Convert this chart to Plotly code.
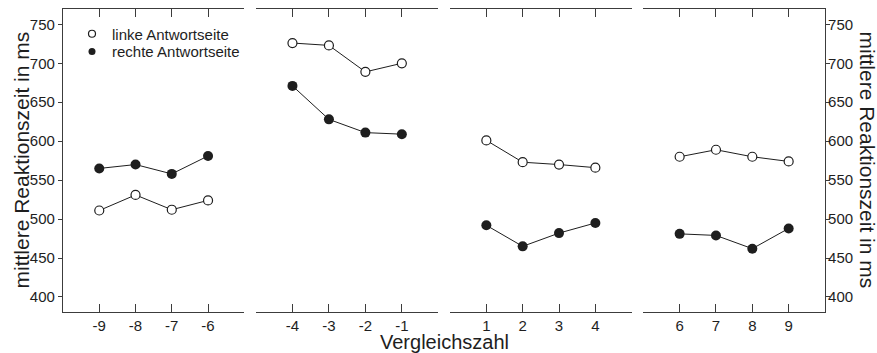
import plotly.graph_objects as go

# ---- data ----
panel_x = [[-9, -8, -7, -6], [-4, -3, -2, -1], [1, 2, 3, 4], [6, 7, 8, 9]]
panel_ranges = [[-10, -5], [-5, 0], [0, 5], [5, 10]]
links = [[511, 531, 512, 524], [726, 723, 689, 700], [601, 573, 570, 566], [580, 589, 580, 574]]
rechts = [[565, 570, 558, 581], [671, 628, 611, 609], [492, 465, 482, 495], [481, 479, 462, 488]]
y_ticks = [400, 450, 500, 550, 600, 650, 700, 750]
y_range = [380.7, 769.7]
series_names = ["linke Antwortseite", "rechte Antwortseite"]
x_title = "Vergleichszahl"
y_title = "mittlere Reaktionszeit in ms"

# ---- layout geometry ----
W, H = 877, 353
ML, MR, MT, MB = 63, 52, 9, 41
PW = W - ML - MR
PH = H - MT - MB
panel_px = [(63, 244.3), (256, 438.3), (450, 631.7), (643.3, 825)]
domains = [[(a - ML) / PW, min(1, (b - ML) / PW)] for a, b in panel_px]

INK = "#1e1e1e"
AX = "#3c3c3c"
FONT = "Liberation Sans, Arial, sans-serif"

fig = go.Figure()

for i in range(4):
    xa = "x" if i == 0 else f"x{i+1}"
    ya = "y" if i == 0 else f"y{i+1}"
    fig.add_trace(go.Scatter(
        x=panel_x[i], y=links[i], xaxis=xa, yaxis=ya, mode="lines+markers",
        line=dict(color=INK, width=1),
        marker=dict(symbol="circle", size=9, color="white", line=dict(color=INK, width=1.2)),
        showlegend=False, hoverinfo="skip"))
    fig.add_trace(go.Scatter(
        x=panel_x[i], y=rechts[i], xaxis=xa, yaxis=ya, mode="lines+markers",
        line=dict(color=INK, width=1),
        marker=dict(symbol="circle", size=10, color=INK, line=dict(color=INK, width=0)),
        showlegend=False, hoverinfo="skip"))

# legend-only entries (one legend box per entry for tight row spacing)
fig.add_trace(go.Scatter(x=[None], y=[None], mode="markers", name=series_names[0], legend="legend",
                         marker=dict(symbol="circle", size=7, color="white", line=dict(color=INK, width=1.2))))
fig.add_trace(go.Scatter(x=[None], y=[None], mode="markers", name=series_names[1], legend="legend2",
                         marker=dict(symbol="circle", size=7, color=INK)))

leg_common = dict(xanchor="left", yanchor="top", bgcolor="rgba(0,0,0,0)", borderwidth=0,
                  font=dict(size=15, color=INK), itemsizing="trace")
layout = dict(
    width=W, height=H,
    margin=dict(l=ML, r=MR, t=MT, b=MB, pad=0),
    paper_bgcolor="white", plot_bgcolor="white",
    font=dict(family=FONT, size=15, color=INK),
    legend=dict(x=(72 - ML) / PW, y=1 - (17.5 - MT) / PH, **leg_common),
    legend2=dict(x=(72 - ML) / PW, y=1 - (35.2 - MT) / PH, **leg_common),
)

for i in range(4):
    xk = "xaxis" if i == 0 else f"xaxis{i+1}"
    yk = "yaxis" if i == 0 else f"yaxis{i+1}"
    xa = "x" if i == 0 else f"x{i+1}"
    ya = "y" if i == 0 else f"y{i+1}"
    lo, hi = panel_ranges[i]
    tv = [lo] + panel_x[i] + [hi]
    tt = [""] + [str(v) for v in panel_x[i]] + [""]
    layout[xk] = dict(domain=domains[i], range=[lo, hi], anchor=ya,
                      showline=True, linecolor=AX, linewidth=1.2, mirror="ticks",
                      ticks="inside", ticklen=8, tickwidth=1.2, tickcolor=AX,
                      tickmode="array", tickvals=tv, ticktext=tt,
                      showgrid=False, zeroline=False, fixedrange=True,
                      tickfont=dict(size=15, color=INK))
    ydict = dict(domain=[0, 1], range=y_range, anchor=xa, showgrid=False, zeroline=False,
                 fixedrange=True, tickmode="array", tickvals=y_ticks,
                 tickfont=dict(size=15, color=INK))
    if i == 0:
        ydict.update(showline=True, linecolor=AX, linewidth=1.2, ticks="outside",
                     ticklen=4, tickwidth=1.2, tickcolor=AX, side="left")
    elif i == 3:
        ydict.update(showline=True, linecolor=AX, linewidth=1.2, ticks="outside",
                     ticklen=4, tickwidth=1.2, tickcolor=AX, side="right",
                     ticklabelstandoff=-5)
    else:
        ydict.update(showline=False, showticklabels=False, ticks="")
    layout[yk] = ydict

fig.update_layout(**layout)

fig.add_annotation(text=x_title, xref="paper", yref="paper",
                   x=(444 - ML) / PW, y=-(342 - (H - MB)) / PH,
                   xanchor="center", yanchor="middle", showarrow=False,
                   font=dict(size=20, color=INK))
fig.add_annotation(text=y_title, xref="paper", yref="paper",
                   x=-(ML - 21) / PW, y=0.5, textangle=-90,
                   xanchor="center", yanchor="middle", showarrow=False,
                   font=dict(size=21, color=INK))
fig.add_annotation(text=y_title, xref="paper", yref="paper",
                   x=1 + (867 - (W - MR)) / PW, y=0.5, textangle=90,
                   xanchor="center", yanchor="middle", showarrow=False,
                   font=dict(size=21, color=INK))

fig.write_html("out.html")
